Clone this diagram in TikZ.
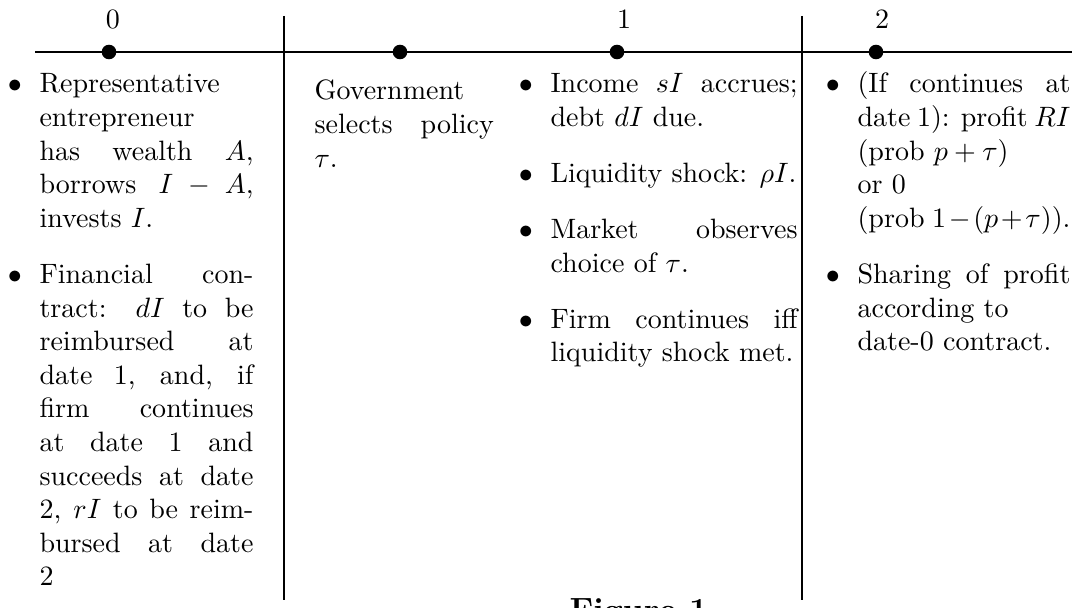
\documentclass[tikz,border=0pt]{standalone}
\usepackage{amsmath}
\usetikzlibrary{positioning}
\tolerance=10000
\hbadness=10000
\hyphenpenalty=10000
\newcommand{\itembullet}{\leavevmode\llap{$\bullet$\hspace{6.3pt}}}
\tikzset{
    raw entry/.style={anchor=base west, inner sep=0pt, align=justify},
    entry zero/.style={raw entry, text width=76.4pt},
    entry gov/.style={raw entry, text width=64pt},
    entry one/.style={raw entry, text width=88.2pt},
    entry two/.style={raw entry, text width=76pt},
    date dot/.style={circle, fill=black, inner sep=0pt, minimum size=5.2pt},
    date label/.style={anchor=base, inner sep=0pt},
    rule/.style={line width=0.55pt}
}
\begin{document}
\begin{tikzpicture}[x=0.357pt, y=-0.357pt]
    \useasboundingbox (0,0) rectangle (1072,608);
    \clip (0,0) rectangle (1072,608);
    % time line and separators
    \coordinate (line start) at (35,52);
    \coordinate (line end) at (1072,52);
    \coordinate (sep a top) at (284,16);
    \coordinate (sep a bot) at (284,600);
    \coordinate (sep b top) at (802,16);
    \coordinate (sep b bot) at (802,600);
    \draw[rule] (line start) -- (line end);
    \draw[rule] (sep a top) -- (sep a bot);
    \draw[rule] (sep b top) -- (sep b bot);
    \node[date dot] (dot0) at (109,52) {};
    \node[date dot] (dotgov) at (400,52) {};
    \node[date dot] (dot1) at (617,52) {};
    \node[date dot] (dot2) at (876,52) {};
    \node[date label] (lab0) at (113,29) {0};
    \node[date label] (lab1) at (624,29) {1};
    \node[date label] (lab2) at (882,29) {2};
    % date 0
    \node[entry zero] (wealth) at (39,93) {\itembullet Representative\linebreak entrepreneur\linebreak has wealth $A$,\linebreak borrows $I-A$,\linebreak invests $I$.};
    \node[entry zero] (contract) at (39,283.4) {\itembullet Financial con-\linebreak tract: $dI$ to be\linebreak reimbursed at\linebreak date 1, and, if\linebreak firm continues\linebreak at date 1 and\linebreak succeeds at date\linebreak 2, $rI$ to be reim-\linebreak bursed at date\linebreak 2};
    % policy
    \node[entry gov] (policy) at (314,100) {Government\linebreak selects policy\linebreak $\tau$.};
    % date 1
    \node[entry one] (income) at (550,93) {\itembullet Income $sI$ accrues;\linebreak debt $dI$ due.};
    \node[entry one] (shock) at (550,182.6) {\itembullet Liquidity shock: $\rho I$.};
    \node[entry one] (market) at (550,238.6) {\itembullet Market observes\linebreak choice of $\tau$.};
    \node[entry one] (firm) at (550,328.2) {\itembullet Firm continues iff\linebreak liquidity shock met.};
    % date 2
    \node[entry two] (profit) at (857,93) {\itembullet (If continues at\linebreak date 1): profit $RI$\newline (prob $p+\tau$)\newline or 0\newline (prob $1-(p+\tau)$).};
    \node[entry two] (sharing) at (857,283.4) {\itembullet Sharing of profit\linebreak according to\newline date-0 contract.};
    % caption, cut by the frame
    \node[anchor=north west, inner sep=0pt, font=\large\bfseries] (caption) at (569,598) {Figure 1};
\end{tikzpicture}
\end{document}
